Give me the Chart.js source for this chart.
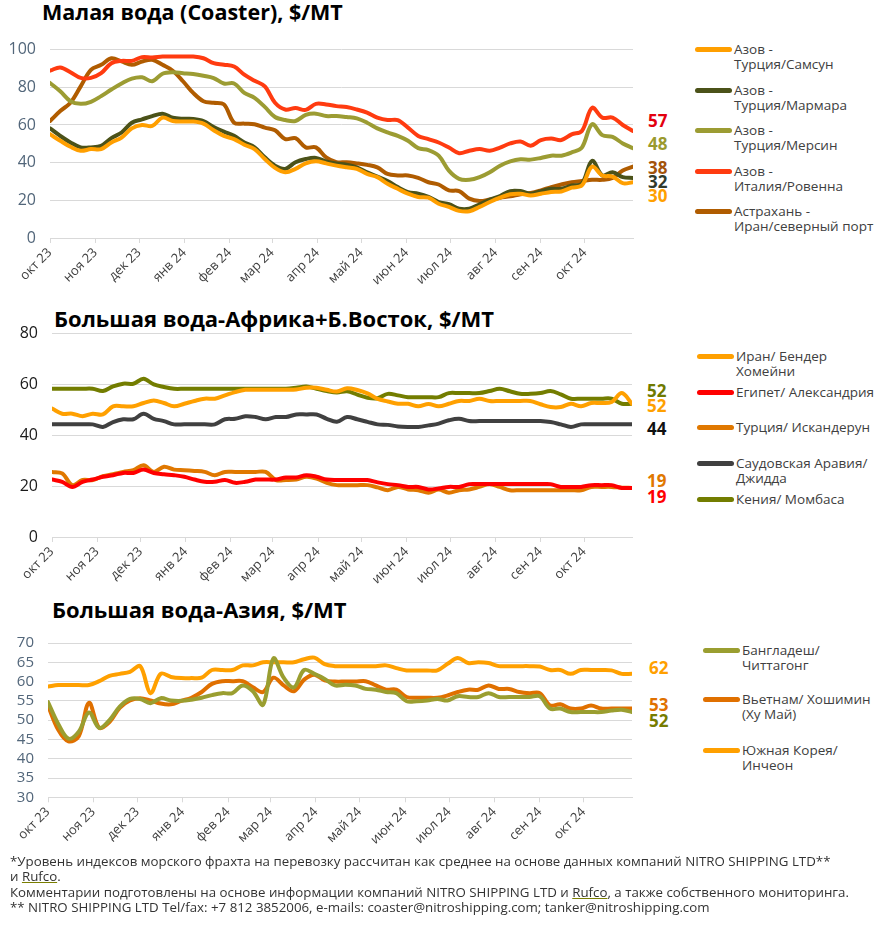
<!DOCTYPE html>
<html lang="ru">
<head>
<meta charset="utf-8">
<title>Индексы фрахта</title>
<script src="https://cdn.jsdelivr.net/npm/chart.js"></script>
<style>
  body { margin:0; background:#fff; font-family:'Open Sans', sans-serif; }
  #page { position:relative; width:887px; height:934px; overflow:hidden; }
  .title { position:absolute; font-weight:700; font-size:22px; line-height:24px; color:#000; white-space:nowrap; }
  canvas { position:absolute; left:0; }
  .lg { position:absolute; font-size:13.5px; line-height:15px; color:#404040; white-space:pre; }
  .sw { position:absolute; height:5px; border-radius:3px; }
  .endlbl { position:absolute; font-weight:700; font-size:17px; line-height:18px; }
  #notes { position:absolute; left:10px; top:854px; font-size:13.3px; line-height:15.4px; color:#333; white-space:nowrap; }
  #notes u { text-decoration-color:#7a7e00; }
</style>
</head>
<body>
<div id="page">
  <div class="title" style="left:42px; top:0px; font-size:21.5px">Малая вода (Coaster), $/MT</div>
  <div class="title" style="left:54px; top:306px">Большая вода-Африка+Б.Восток, $/MT</div>
  <div class="title" style="left:52px; top:597px">Большая вода-Азия, $/MT</div>
  <canvas id="c1" width="640" height="269" style="top:26px"></canvas>
  <canvas id="c2" width="640" height="285" style="top:310px"></canvas>
  <canvas id="c3" width="640" height="235" style="top:620px"></canvas>
  <div id="notes">
    *Уровень индексов морского фрахта на перевозку рассчитан как среднее на основе данных компаний NITRO SHIPPING LTD**<br>
    и <u>Rufco</u>.<br>
    Комментарии подготовлены на основе информации компаний NITRO SHIPPING LTD и <u>Rufco</u>, а также собственного мониторинга.<br>
    ** NITRO SHIPPING LTD Tel/fax: +7 812 3852006, e-mails: coaster@nitroshipping.com; tanker@nitroshipping.com
  </div>
</div>
<script>
// month ticks (days from 1 Oct 2023)
const monthLabels = ['окт 23','ноя 23','дек 23','янв 24','фев 24','мар 24','апр 24','май 24','июн 24','июл 24','авг 24','сен 24','окт 24'];
const monthDays   = [0, 31, 61, 92, 123, 152, 183, 213, 244, 274, 305, 336, 366];

// --- Малая вода (weekly) ---
const samsun    = [55.1,51.6,48.4,46.3,47.2,47.2,50.7,53.3,58.2,60,59.5,63.9,62.1,61.8,61.8,60.7,57.2,54.2,52.5,49.5,47.2,41.9,37.2,34.9,36.7,39.6,40.7,39.6,38.4,37.5,36.7,34,32.3,28.8,26.1,23.5,21.8,21.4,18.2,16.5,14.4,14.2,16.5,19.1,21.4,23.2,23.5,22.6,23.5,24.4,24.7,26.7,27.9,37.9,33.2,32.6,29.1,29.6];
const marmara   = [58.2,54.2,50.7,48.1,48.1,48.9,53,56,61.2,63,64.7,66,63.9,63.3,63.2,62.1,58.9,56.5,54.2,50.7,48.1,42.8,38.4,36.7,40.2,41.9,42.5,40.7,39.5,38.9,37.5,34.9,32.6,30.2,27,24.4,23.5,21.8,19.1,17.9,15.6,15.6,17.9,20.4,22.3,24.9,24.9,23.5,24.9,26.1,26.1,27.9,28.8,41,33.2,34.9,32.3,31.9];
const mersin    = [82.3,77.9,72.6,71.2,72.3,75.3,78.8,82,84.6,85.3,83.2,87.2,88,87.5,87,86.1,84.9,82,82,77,74.4,69.6,64.2,62.6,62.1,65.3,66,64.7,64.8,64.2,63.5,61.2,58.2,56,54.2,51.6,47.7,46.7,43.7,35.8,31.4,30.9,32.3,34.9,38.4,40.7,41.8,41.6,42.5,43.7,43.7,45.4,48,60.4,54.6,53.7,50.2,47.7];
const ravenna   = [88.8,90.5,88,85,85,87.5,92.8,94,94,96,95.8,96.3,96.3,96.3,96.3,95.4,92.8,92,91,86.7,83.5,80.5,71.8,68.2,69,68,71.2,70.9,70,69.5,68.2,66.5,63.9,62.6,62.6,58.6,54.2,52.5,50.7,48,45,46.3,47.2,46.3,48,50.2,51.2,49,52,52.8,52,55,56.8,69.1,63.9,63.9,60,56.8];
const astrakhan = [62.1,67.4,71.8,80.5,89.3,91.9,95.4,93.7,91.9,93.7,94.6,91.9,88.8,83.2,77,72.6,71.8,70.9,61.2,60.7,60.4,58.6,57.2,52.5,53,48.1,48.1,42.8,40.3,40.2,39.6,38.8,37.5,34,33.2,33.2,31.9,29.6,28.4,25.3,24.9,20.9,19.6,20.4,21.4,22.1,23.2,23.9,25.3,27,28.4,29.6,30.2,30.9,30.9,31.9,35.8,37.9];

// --- Большая вода-Африка+Б.Восток ---
const iran   = [50.5,48.5,48.5,47.5,48.5,48.2,51.4,51.4,51.4,52.7,53.7,52.7,51.4,52.4,53.5,54.4,54.4,55.7,57,57.9,57.9,57.9,57.9,57.9,58,58.7,58.7,57.9,57.2,58.5,57.8,56.5,54.3,53.3,52.4,52.4,51.4,52.3,51.4,52.4,53.5,53.5,54.4,53.5,53.5,53.5,53.5,53.5,52.2,51.1,51.1,52.4,51.4,52.7,52.7,53.1,56.6,52.4];
const egypt  = [22.6,21.7,19.7,21.7,22.6,23.7,24.3,25.2,25.2,26.5,25.2,24.7,24.3,23.7,22.6,21.7,21.7,22.4,21.3,21.7,22.6,22.6,22.6,23.4,23.4,24.3,23.7,22.6,22.4,22.4,22.4,22.4,21.5,20.8,20.4,19.7,19.7,18.7,19.1,19.7,19.7,20.8,20.8,20.8,20.8,20.8,20.8,20.8,20.8,20.8,19.7,19.7,19.7,20.4,20.4,20.4,19.3,19.3];
const turkey = [25.6,25,20.4,22.4,22.4,23.9,24.7,25.6,26.3,28.2,25.6,27.6,26.5,26.3,26,25.6,24.3,25.6,25.6,25.6,25.6,25.6,22.4,22.4,22.6,23.7,23,21.3,20.4,20.4,20.4,20.4,19.5,18.4,19.7,18.7,18.4,17.4,18.7,17.4,18.4,18.7,19.7,20.8,19.7,18.4,18.4,18.4,18.4,18.4,18.4,18.4,18.4,19.7,19.7,19.7,19.4,19.3];
const saudi  = [44.3,44.3,44.3,44.3,44.3,43.3,45.2,46.3,46.3,48.5,46.5,45.6,44.3,44.3,44.3,44.3,44.3,46.3,46.5,47.5,47.2,46.3,47.2,47.2,48.2,48.2,48.2,46.5,45.3,47.2,46.3,45.3,44.3,44.1,43.5,43.3,43.3,43.9,44.6,45.9,46.5,45.6,45.6,45.6,45.6,45.6,45.6,45.6,45.6,45.2,44.3,43.3,44.3,44.3,44.3,44.3,44.3,44.3];
const kenya  = [58.3,58.3,58.3,58.3,58.3,57.4,59.2,60.3,60.3,62.2,60,59,58.3,58.3,58.3,58.3,58.3,58.3,58.3,58.3,58.3,58.3,58.3,58.3,58.7,59.2,58.3,57.4,56.8,57.3,56,54.8,54.6,56.3,55.7,55,55,55,55,56.6,56.6,56.6,56.6,57.4,58.3,57.3,56.3,56.3,56.6,57.4,56.1,54.4,54.4,54.4,54.4,54.4,52.4,52.4];

// --- Большая вода-Азия ---
const bangladesh = [54.7,49,45.2,47,52,48,50,53.5,55.5,55.5,54.4,55.7,55.1,55,55.3,55.8,56.5,57,57,59,57.5,54,66,61,58.5,63,62,60.7,59,59.2,59,58.1,57.9,57.3,57,54.9,54.9,55.1,55.5,55.1,56.2,56,56,57,56,56,56,56,56.2,53,53,52.1,52.1,52.1,52.1,52.5,52.7,52.1];
const vietnam    = [53.8,47.5,44.5,45.8,54.5,48,49.5,53.2,55.1,55.7,55.1,54.3,54.1,55,55.8,57.3,59.4,60.1,60.1,60.1,58.5,57.3,61,59,57.5,60.5,61.8,60.3,60,60,60,60.1,59,57.9,57.9,56,55.8,55.8,55.8,56.4,57.3,57.9,57.9,59,58.1,58.1,57.3,57,57,53.8,54.1,53,53,53.8,53,53,53,53];
const korea      = [58.7,59.1,59.1,59.1,59.1,60.1,61.5,62,62.5,64,57,62,61.2,60.9,60.9,61,63,63,63,64.2,64.2,65,65,65,65,65.8,66.2,64.5,64,64,64,64,64,64.2,63.5,62.9,62.9,62.9,62.9,64.6,66.1,64.8,65,64.8,64,64,64,64,63.9,63,63,62,63,63,63,62.9,62,62];

const weekDays = samsun.map((_, i) => i * 7);

const page = document.getElementById('page');

function addDiv(cls, left, top, html, style) {
  const d = document.createElement('div');
  d.className = cls;
  d.style.left = left + 'px';
  d.style.top = top + 'px';
  if (style) Object.assign(d.style, style);
  d.innerHTML = html;
  page.appendChild(d);
  return d;
}

function makePanel(p) {
  const canvas = document.getElementById(p.id);
  const chart = new Chart(canvas, {
    type: 'line',
    data: {
      datasets: p.series.map(s => ({
        label: s.name,
        data: s.data.map((v, i) => ({ x: weekDays[i], y: v })),
        borderColor: s.color,
        borderWidth: 4,
        pointRadius: 0,
        tension: 0.35,
        borderCapStyle: 'round',
        borderJoinStyle: 'round',
        fill: false
      }))
    },
    options: {
      responsive: false,
      animation: false,
      events: [],
      layout: { autoPadding: false, padding: { top: p.areaTop, right: 640 - p.right, left: 0, bottom: 0 } },
      plugins: { legend: { display: false }, tooltip: { enabled: false } },
      scales: {
        x: {
          type: 'linear', min: 0, max: 399,
          afterBuildTicks: axis => { axis.ticks = monthDays.map(v => ({ value: v })); },
          afterFit: axis => { axis.height = canvas.height - p.areaBottom; },
          ticks: {
            autoSkip: false, minRotation: 45, maxRotation: 45, padding: 2,
            color: '#404040', font: { family: 'Open Sans', size: 13 },
            callback: v => monthLabels[monthDays.indexOf(v)]
          },
          grid: { drawOnChartArea: false, tickLength: 5, color: '#d9d9d9' },
          border: { display: true, color: '#d9d9d9' }
        },
        y: {
          min: p.yMin, max: p.yMax,
          afterFit: axis => { axis.width = p.left; },
          ticks: { stepSize: p.yStep, autoSkip: false, padding: 14, color: p.tickColor, font: { family: 'Open Sans', size: p.tickSize } },
          grid: { color: '#d9d9d9', drawTicks: false },
          border: { display: false }
        }
      }
    }
  });

  const top = parseFloat(canvas.style.top);
  p.series.forEach((s, k) => {
    // legend
    const ly = p.legendY[k];
    addDiv('sw', p.legendX, ly - 2.5, '', { width: (p.textX - p.legendX - 2) + 'px', background: s.color });
    addDiv('lg', p.textX, ly - 7.5, s.name);
    // value at the end of the line
    const last = s.data[s.data.length - 1];
    const y = chart.scales.y.getPixelForValue(last) + top + s.nudge;
    addDiv('endlbl', p.labelX, y - 9, String(Math.round(last)), { color: s.label });
  });
}

makePanel({
  id: 'c1', left: 50, right: 633, areaTop: 22, areaBottom: 212,
  yMin: 0, yMax: 100, yStep: 20, tickColor: '#52667a', tickSize: 16,
  legendX: 695, textX: 734, labelX: 648,
  legendY: [49.3, 90, 130, 171, 211],
  series: [
    { name: 'Азов -\nТурция/Самсун', data: samsun, color: '#ff9f00', label: '#ffa000', nudge: 14 },
    { name: 'Азов -\nТурция/Мармара', data: marmara, color: '#4b5219', label: '#303a2c', nudge: 4 },
    { name: 'Азов -\nТурция/Мерсин', data: mersin, color: '#9c9c33', label: '#9a9a2e', nudge: -4 },
    { name: 'Азов -\nИталия/Ровенна', data: ravenna, color: '#ff3b10', label: '#e3000f', nudge: -10 },
    { name: 'Астрахань -\nИран/северный порт', data: astrakhan, color: '#b05c00', label: '#a3530a', nudge: 1 }
  ]
});

makePanel({
  id: 'c2', left: 52, right: 632, areaTop: 22, areaBottom: 227,
  yMin: 0, yMax: 80, yStep: 20, tickColor: '#1a1a1a', tickSize: 16,
  legendX: 697, textX: 736, labelX: 647,
  legendY: [356.7, 392.7, 427.7, 463.3, 499.3],
  series: [
    { name: 'Иран/ Бендер\nХомейни', data: iran, color: '#ffa000', label: '#ffa000', nudge: 2.6 },
    { name: 'Египет/ Александрия', data: egypt, color: '#ff0000', label: '#ff0000', nudge: 8.7 },
    { name: 'Турция/ Искандерун', data: turkey, color: '#e07800', label: '#e07800', nudge: -7.3 },
    { name: 'Саудовская Аравия/\nДжидда', data: saudi, color: '#404040', label: '#111111', nudge: 4.3 },
    { name: 'Кения/ Момбаса', data: kenya, color: '#737d00', label: '#6f7a00', nudge: -12.4 }
  ]
});

makePanel({
  id: 'c3', left: 48, right: 632, areaTop: 22.3, areaBottom: 177.3,
  yMin: 30, yMax: 70, yStep: 5, tickColor: '#52667a', tickSize: 15,
  legendX: 703, textX: 742, labelX: 649,
  legendY: [650.7, 699.3, 750],
  series: [
    { name: 'Бангладеш/\nЧиттагонг', data: bangladesh, color: '#9a9e30', label: '#767c00', nudge: 9 },
    { name: 'Вьетнам/ Хошимин\n(Ху Май)', data: vietnam, color: '#e07000', label: '#e07000', nudge: -3.9 },
    { name: 'Южная Корея/\nИнчеон', data: korea, color: '#ffa000', label: '#ffa000', nudge: -6 }
  ]
});
</script>
</body>
</html>
